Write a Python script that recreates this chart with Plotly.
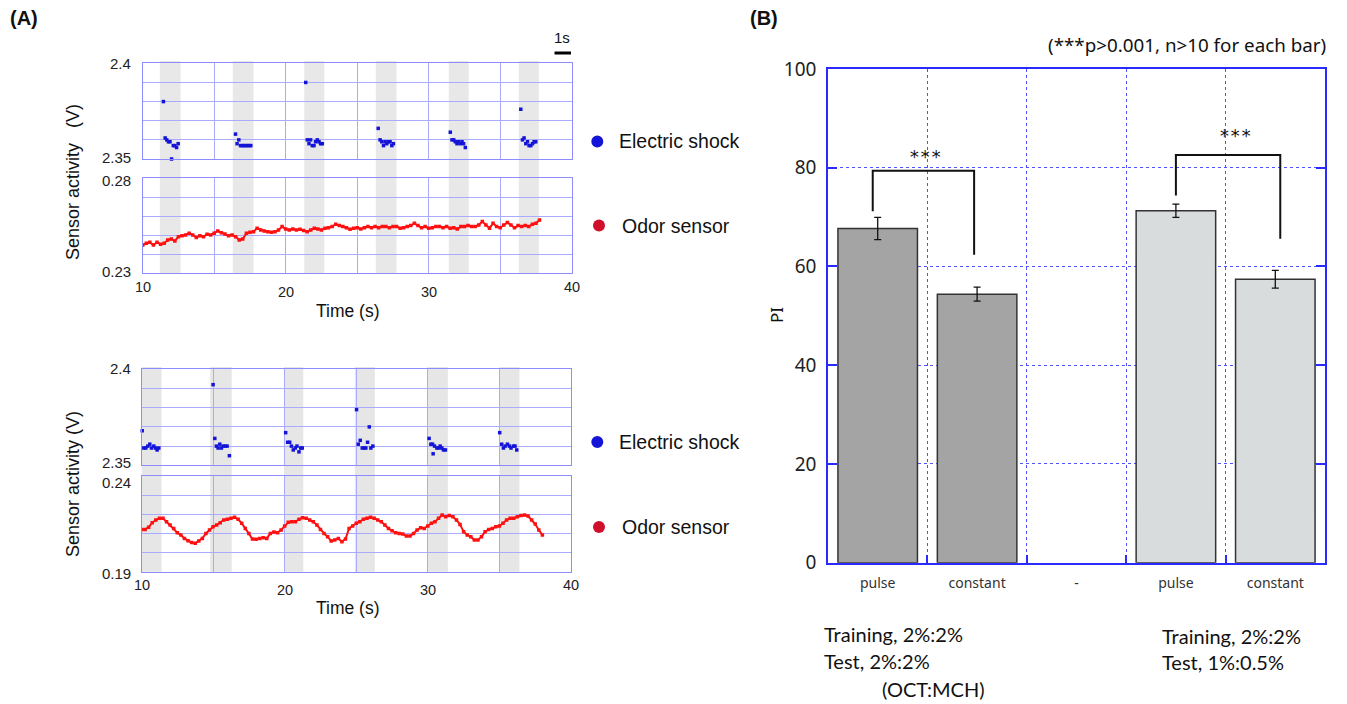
import plotly.graph_objects as go

W, H = 1347, 704
def fx(p): return p / W
def fy(p): return 1 - p / H

# ---------------- data ----------------
# (A) upper recording: electric shock sensor samples
shock_top_t = [11.45, 11.57, 11.68, 11.80, 11.91, 12.02, 12.14, 12.25, 12.37, 12.48,
               16.49, 16.60, 16.72, 16.84, 16.96, 17.08, 17.20, 17.32, 17.44, 17.56,
               21.40, 21.51, 21.63, 21.74, 21.86, 21.98, 22.09, 22.21, 22.33, 22.44, 22.56,
               26.47, 26.60, 26.72, 26.84, 26.95, 27.07, 27.19, 27.30, 27.42, 27.53,
               31.51, 31.63, 31.75, 31.86, 31.98, 32.09, 32.21, 32.33, 32.44, 32.56,
               36.44, 36.56, 36.67, 36.79, 36.91, 37.02, 37.14, 37.26, 37.37, 37.49]
shock_top_v = [2.380, 2.361, 2.360, 2.359, 2.359, 2.350, 2.357, 2.357, 2.356, 2.358,
               2.363, 2.358, 2.360, 2.357, 2.357, 2.357, 2.357, 2.357, 2.357, 2.357,
               2.390, 2.360, 2.358, 2.360, 2.357, 2.357, 2.359, 2.360, 2.359, 2.358, 2.358,
               2.366, 2.360, 2.359, 2.357, 2.359, 2.358, 2.359, 2.359, 2.357, 2.358,
               2.364, 2.360, 2.360, 2.359, 2.358, 2.359, 2.358, 2.359, 2.358, 2.356,
               2.376, 2.360, 2.361, 2.358, 2.359, 2.357, 2.357, 2.358, 2.359, 2.359]

# (A) lower recording: electric shock sensor samples
shock_bot_t = [10.05, 10.16, 10.30, 10.44, 10.58, 10.70, 10.86, 10.98, 11.09, 11.21,
               15.00, 15.12, 15.23, 15.35, 15.47, 15.58, 15.70, 15.84, 15.98, 16.14,
               20.07, 20.21, 20.35, 20.47, 20.60, 20.74, 20.86, 21.00, 21.12, 21.23,
               25.02, 25.14, 25.28, 25.42, 25.56, 25.67, 25.79, 25.91, 26.02, 26.16,
               30.09, 30.21, 30.33, 30.37, 30.47, 30.63, 30.77, 30.86, 30.98, 31.09, 31.23,
               35.02, 35.16, 35.28, 35.40, 35.56, 35.70, 35.81, 35.98, 36.09, 36.21]
shock_bot_v = [2.368, 2.359, 2.359, 2.360, 2.361, 2.359, 2.360, 2.359, 2.358, 2.359,
               2.392, 2.364, 2.360, 2.359, 2.361, 2.359, 2.360, 2.360, 2.360, 2.355,
               2.367, 2.362, 2.362, 2.360, 2.358, 2.359, 2.360, 2.357, 2.359, 2.359,
               2.379, 2.361, 2.363, 2.359, 2.359, 2.359, 2.362, 2.370, 2.359, 2.360,
               2.364, 2.361, 2.361, 2.356, 2.360, 2.359, 2.359, 2.360, 2.359, 2.358, 2.358,
               2.367, 2.361, 2.359, 2.360, 2.361, 2.360, 2.359, 2.360, 2.360, 2.358]

# odor sensor sample times (s)
odor_t_top = [10, 10.25, 10.5, 10.75, 11, 11.25, 11.5, 11.75, 12, 12.25, 12.5, 12.75,
              13, 13.25, 13.5, 13.75, 14, 14.25, 14.5, 14.75, 15, 15.25, 15.5, 15.75,
              16, 16.25, 16.5, 16.75, 17, 17.25, 17.5, 17.75, 18, 18.25, 18.5, 18.75,
              19, 19.25, 19.5, 19.75, 20, 20.25, 20.5, 20.75, 21, 21.25, 21.5, 21.75,
              22, 22.25, 22.5, 22.75, 23, 23.25, 23.5, 23.75, 24, 24.25, 24.5, 24.75,
              25, 25.25, 25.5, 25.75, 26, 26.25, 26.5, 26.75, 27, 27.25, 27.5, 27.75,
              28, 28.25, 28.5, 28.75, 29, 29.25, 29.5, 29.75, 30, 30.25, 30.5, 30.75,
              31, 31.25, 31.5, 31.75, 32, 32.25, 32.5, 32.75, 33, 33.25, 33.5, 33.75,
              34, 34.25, 34.5, 34.75, 35, 35.25, 35.5, 35.75, 36, 36.25, 36.5, 36.75,
              37, 37.25, 37.5, 37.75]
odor_top_v = [0.2449, 0.2458, 0.2463, 0.2449, 0.2463, 0.2453, 0.2458, 0.2475, 0.2481, 0.2470,
              0.2493, 0.2498, 0.2502, 0.2511, 0.2502, 0.2488, 0.2498, 0.2493, 0.2505, 0.2502,
              0.2511, 0.2523, 0.2514, 0.2507, 0.2498, 0.2502, 0.2493, 0.2475, 0.2481, 0.2511,
              0.2516, 0.2519, 0.2537, 0.2528, 0.2523, 0.2519, 0.2516, 0.2519, 0.2528, 0.2546,
              0.2533, 0.2528, 0.2533, 0.2528, 0.2532, 0.2525, 0.2519, 0.2528, 0.2537, 0.2533,
              0.2528, 0.2537, 0.2540, 0.2546, 0.2558, 0.2551, 0.2546, 0.2540, 0.2532, 0.2537,
              0.2540, 0.2533, 0.2540, 0.2546, 0.2540, 0.2546, 0.2540, 0.2546, 0.2546, 0.2540,
              0.2546, 0.2546, 0.2537, 0.2540, 0.2546, 0.2551, 0.2563, 0.2551, 0.2540, 0.2546,
              0.2537, 0.2540, 0.2546, 0.2546, 0.2540, 0.2546, 0.2537, 0.2540, 0.2533, 0.2546,
              0.2546, 0.2551, 0.2546, 0.2546, 0.2554, 0.2572, 0.2554, 0.2537, 0.2563, 0.2546,
              0.2540, 0.2554, 0.2568, 0.2554, 0.2540, 0.2551, 0.2546, 0.2551, 0.2546, 0.2558,
              0.2563, 0.2581]

odor_t_bot = [10, 10.25, 10.5, 10.75, 11, 11.25, 11.5, 11.75, 12, 12.25, 12.5, 12.75,
              13, 13.25, 13.5, 13.75, 14, 14.25, 14.5, 14.75, 15, 15.25, 15.5, 15.75,
              16, 16.25, 16.5, 16.75, 17, 17.25, 17.5, 17.75, 18, 18.25, 18.5, 18.75,
              19, 19.25, 19.5, 19.75, 20, 20.25, 20.5, 20.75, 21, 21.25, 21.5, 21.75,
              22, 22.25, 22.5, 22.75, 23, 23.25, 23.5, 23.75, 24, 24.25, 24.5, 24.75,
              25, 25.25, 25.5, 25.75, 26, 26.25, 26.5, 26.75, 27, 27.25, 27.5, 27.75,
              28, 28.25, 28.5, 28.75, 29, 29.25, 29.5, 29.75, 30, 30.25, 30.5, 30.75,
              31, 31.25, 31.5, 31.75, 32, 32.25, 32.5, 32.75, 33, 33.25, 33.5, 33.75,
              34, 34.25, 34.5, 34.75, 35, 35.25, 35.5, 35.75, 36, 36.25, 36.5, 36.75,
              37, 37.25, 37.5, 37.75, 38]
odor_bot_v = [0.2121, 0.2121, 0.2132, 0.2156, 0.2170, 0.2179, 0.2179, 0.2161, 0.2144, 0.2126,
              0.2104, 0.2092, 0.2074, 0.2062, 0.2052, 0.2048, 0.2060, 0.2074, 0.2100, 0.2118,
              0.2135, 0.2144, 0.2156, 0.2170, 0.2174, 0.2179, 0.2184, 0.2174, 0.2153, 0.2126,
              0.2100, 0.2071, 0.2069, 0.2074, 0.2078, 0.2074, 0.2100, 0.2107, 0.2104, 0.2118,
              0.2139, 0.2158, 0.2161, 0.2161, 0.2174, 0.2182, 0.2179, 0.2170, 0.2161, 0.2144,
              0.2121, 0.2100, 0.2083, 0.2060, 0.2066, 0.2074, 0.2057, 0.2071, 0.2126, 0.2139,
              0.2153, 0.2161, 0.2174, 0.2179, 0.2184, 0.2179, 0.2170, 0.2161, 0.2144, 0.2126,
              0.2114, 0.2104, 0.2100, 0.2097, 0.2086, 0.2086, 0.2100, 0.2118, 0.2130, 0.2126,
              0.2139, 0.2153, 0.2161, 0.2179, 0.2196, 0.2187, 0.2193, 0.2187, 0.2170, 0.2147,
              0.2109, 0.2092, 0.2083, 0.2066, 0.2066, 0.2083, 0.2109, 0.2121, 0.2126, 0.2135,
              0.2139, 0.2153, 0.2170, 0.2179, 0.2179, 0.2187, 0.2193, 0.2196, 0.2191, 0.2170,
              0.2149, 0.2118, 0.2092]

# shock stimulus periods (s)
band_top_start = [11.2, 16.3, 21.3, 26.3, 31.4, 36.3]
band_top_end = [12.65, 17.75, 22.7, 27.75, 32.8, 37.7]
band_bot_start = [10.0, 14.8, 19.95, 24.9, 29.95, 35.0]
band_bot_end = [11.4, 16.3, 21.3, 26.3, 31.4, 36.4]

time_grid = [10, 15, 20, 25, 30, 35, 40]
time_labels = [10, 20, 30, 40]
shock_grid = [2.35, 2.36, 2.37, 2.38, 2.39, 2.40]
odor_top_grid = [0.23, 0.24, 0.25, 0.26, 0.27, 0.28]
odor_bot_grid = [0.19, 0.20, 0.21, 0.22, 0.23, 0.24]
# end-of-axis labels: (axis, value, text, vertical shift in px, + = up)
y_end_labels = [('y', 2.40, '2.4', 0), ('y', 2.35, '2.35', 1),
                ('y2', 0.28, '0.28', -2), ('y2', 0.23, '0.23', 1.5),
                ('y3', 2.40, '2.4', 1), ('y3', 2.35, '2.35', 3),
                ('y4', 0.24, '0.24', -6), ('y4', 0.19, '0.19', -1.5)]

# (B) bar chart
bar_pos = [1, 2, 4, 5]
bar_labels_pos = [1, 2, 3, 4, 5]
bar_labels = ['pulse', 'constant', '-', 'pulse', 'constant']
pi_values = [67.7, 54.4, 71.3, 57.4]
pi_errors = [2.25, 1.4, 1.35, 1.8]
bar_colors = ['#a4a4a4', '#a4a4a4', '#d9dcdc', '#d9dcdc']
pi_ticks = [0, 20, 40, 60, 80, 100]
bracket_left_x = [0.95, 0.95, 1.97, 1.97]
bracket_left_y = [71.2, 79.4, 79.4, 62.4]
bracket_right_x = [4.0, 4.0, 5.05, 5.05]
bracket_right_y = [74.4, 82.6, 82.6, 65.6]
star_x = [1.48, 4.6]
star_y = [82.3, 86.6]

# ---------------- styling ----------------
LF = "Liberation Sans, Arial, sans-serif"
RF = "Noto Sans, sans-serif"
CF = "Lato, Carlito, sans-serif"
GRID_L = "#aaaaff"
LINE_L = "#8c8cff"
BLUE_DOT = "#1414d8"
RED_LINE = "#ff1010"
BLUE_B = "#2a2aff"

TOPX = (142.7, 571.7)
BOTX = (141.5, 571.0)
P_SHOCK_TOP = (63.3, 159.0)
P_ODOR_TOP = (178.3, 273.3)
P_SHOCK_BOT = (369.3, 465.3)
P_ODOR_BOT = (476.0, 571.7)
BX = (828.0, 1325.0)
BY = (69.0, 562.7)


def xax(dom, anchor):
    return dict(domain=[fx(dom[0]), fx(dom[1])], range=[10, 40], anchor=anchor,
                tickvals=time_grid, showticklabels=False, automargin=False,
                showgrid=True, gridcolor=GRID_L, gridwidth=1, showline=True,
                linecolor=LINE_L, linewidth=1, mirror=True, zeroline=False, ticks='',
                fixedrange=True)


def yax(dom, rng, tv, anchor):
    return dict(domain=[fy(dom[1]), fy(dom[0])], range=rng, anchor=anchor,
                tickvals=tv, showticklabels=False, automargin=False,
                showgrid=True, gridcolor=GRID_L, gridwidth=1,
                showline=True, linecolor=LINE_L, linewidth=1, mirror=True, zeroline=False,
                ticks='', fixedrange=True)


fig = go.Figure()

fig.add_trace(go.Scatter(x=shock_top_t, y=shock_top_v, mode='markers', xaxis='x', yaxis='y',
                         marker=dict(symbol='square', size=3.5, color=BLUE_DOT), cliponaxis=False))
fig.add_trace(go.Scatter(x=odor_t_top, y=odor_top_v, mode='lines+markers', xaxis='x2', yaxis='y2',
                         line=dict(color=RED_LINE, width=2),
                         marker=dict(symbol='square', size=3.5, color=RED_LINE)))
fig.add_trace(go.Scatter(x=shock_bot_t, y=shock_bot_v, mode='markers', xaxis='x3', yaxis='y3',
                         marker=dict(symbol='square', size=3.5, color=BLUE_DOT), cliponaxis=False))
fig.add_trace(go.Scatter(x=odor_t_bot, y=odor_bot_v, mode='lines+markers', xaxis='x4', yaxis='y4',
                         line=dict(color=RED_LINE, width=2),
                         marker=dict(symbol='square', size=3.5, color=RED_LINE)))

fig.add_trace(go.Bar(x=bar_pos, y=pi_values, width=0.8, xaxis='x5', yaxis='y5',
                     marker=dict(color=bar_colors, line=dict(color='#333333', width=1.5)),
                     error_y=dict(type='data', array=pi_errors, color='#111111',
                                  thickness=1.3, width=3.5)))
for bx, by in ((bracket_left_x, bracket_left_y), (bracket_right_x, bracket_right_y)):
    fig.add_trace(go.Scatter(x=bx, y=by, mode='lines', xaxis='x5', yaxis='y5',
                             line=dict(color='#111111', width=2)))

shapes = []
for s, e in zip(band_top_start, band_top_end):
    shapes.append(dict(type='rect', xref='x', yref='paper', x0=s, x1=e,
                       y0=fy(P_ODOR_TOP[1]), y1=fy(61), fillcolor='#e8e8e8',
                       line=dict(width=0), layer='below'))
for s, e in zip(band_bot_start, band_bot_end):
    shapes.append(dict(type='rect', xref='x3', yref='paper', x0=s, x1=e,
                       y0=fy(P_ODOR_BOT[1]), y1=fy(367), fillcolor='#e6e6e6',
                       line=dict(width=0), layer='below'))
# 1 s scale bar
shapes.append(dict(type='line', xref='x', yref='paper', x0=38.8, x1=39.95,
                   y0=fy(53), y1=fy(53), line=dict(color='black', width=3)))
# legend dots
for cx, cy, col in ((597.3, 141.5, BLUE_DOT), (599, 225.5, '#d0102a'),
                    (597.3, 442, BLUE_DOT), (599, 527, '#d0102a')):
    r = 6
    shapes.append(dict(type='circle', xref='paper', yref='paper',
                       x0=fx(cx - r), x1=fx(cx + r), y0=fy(cy + r), y1=fy(cy - r),
                       fillcolor=col, line=dict(width=0)))

ann = []
def txt(x, y, t, size, family=LF, xanchor='center', angle=0, bold=False, color='#111'):
    ann.append(dict(x=fx(x), y=fy(y), xref='paper', yref='paper', text=(f'<b>{t}</b>' if bold else t),
                    showarrow=False, xanchor=xanchor, yanchor='middle', textangle=angle,
                    font=dict(family=family, size=size, color=color)))

# left-panel axis end labels (placed on the axes' own scales)
for yref, val, label, shift in y_end_labels:
    ann.append(dict(xref='paper', x=fx(132.5), yref=yref, y=val, text=label, showarrow=False,
                    xanchor='right', yanchor='middle', yshift=shift,
                    font=dict(family=LF, size=15, color='#222')))
for xref, ybase in (('x2', 287), ('x4', 585)):
    for v in time_labels:
        dy = 0 if v in (10, 40) else 5
        ann.append(dict(xref=xref, x=v, yref='paper', y=fy(ybase + dy), text=str(v),
                        showarrow=False, xanchor='center', yanchor='middle',
                        font=dict(family=LF, size=14.5, color='#222')))

txt(8, 18, '(A)', 20, xanchor='left', bold=True)
txt(748, 18, '(B)', 20, xanchor='left', bold=True)
txt(562, 37, '1s', 15)
txt(73, 182, 'Sensor activity&nbsp;&nbsp; (V)', 18, angle=-90)
txt(73, 484, 'Sensor activity (V)', 18, angle=-90)
txt(348, 311, 'Time (s)', 17.5)
txt(348, 608, 'Time (s)', 17.5)
txt(617, 141.5, 'Electric shock', 19.5, xanchor='left')
txt(619.5, 225.5, 'Odor sensor', 19.5, xanchor='left')
txt(617, 442, 'Electric shock', 19.5, xanchor='left')
txt(620, 527, 'Odor sensor', 19.5, xanchor='left')

txt(1328, 45, '(***p>0.001, n>10 for each bar)', 18.8, family=RF, xanchor='right')
txt(776, 315, 'PI', 17, family=RF, angle=-90)
txt(822, 634, 'Training, 2%:2%', 20, family=CF, xanchor='left')
txt(822, 661, 'Test, 2%:2%', 20, family=CF, xanchor='left')
txt(880, 689, '(OCT:MCH)', 20, family=CF, xanchor='left')
txt(1160, 636, 'Training, 2%:2%', 20, family=CF, xanchor='left')
txt(1160, 662, 'Test, 1%:0.5%', 20, family=CF, xanchor='left')

for sx, sy in zip(star_x, star_y):
    ann.append(dict(x=sx, y=sy, xref='x5', yref='y5', text='***', showarrow=False,
                    xanchor='center', yanchor='middle',
                    font=dict(family='DejaVu Sans Mono, monospace', size=18, color='#111')))

fig.update_layout(
    width=W, height=H, margin=dict(l=0, r=0, t=0, b=0, autoexpand=False),
    paper_bgcolor='white', plot_bgcolor='rgba(0,0,0,0)', showlegend=False,
    xaxis=xax(TOPX, 'y'),
    yaxis=yax(P_SHOCK_TOP, [2.35, 2.40], shock_grid, 'x'),
    xaxis2=xax(TOPX, 'y2'),
    yaxis2=yax(P_ODOR_TOP, [0.23, 0.28], odor_top_grid, 'x2'),
    xaxis3=xax(BOTX, 'y3'),
    yaxis3=yax(P_SHOCK_BOT, [2.35, 2.40], shock_grid, 'x3'),
    xaxis4=xax(BOTX, 'y4'),
    yaxis4=yax(P_ODOR_BOT, [0.19, 0.24], odor_bot_grid, 'x4'),
    xaxis5=dict(domain=[fx(BX[0]), fx(BX[1])], range=[0.5, 5.5], anchor='y5',
                tickvals=bar_labels_pos, ticktext=bar_labels, showgrid=False, ticks='',
                showline=True, linecolor=BLUE_B, linewidth=1.5, mirror=True, zeroline=False,
                tickfont=dict(family=RF, size=14, color='#333'), ticklabelstandoff=7,
                automargin=False,
                minor=dict(tickvals=[1.5, 2.5, 3.5, 4.5], showgrid=True, gridcolor='#5050ff',
                           griddash='dot', gridwidth=1, ticks='inside', ticklen=8,
                           tickcolor=BLUE_B, tickwidth=1.5),
                fixedrange=True),
    yaxis5=dict(domain=[fy(BY[1]), fy(BY[0])], range=[0, 100], anchor='x5',
                tickvals=pi_ticks, showgrid=True, gridcolor='#5050ff', griddash='dot',
                gridwidth=1, ticks='inside', ticklen=9, tickcolor=BLUE_B, tickwidth=1.5,
                showline=True, linecolor=BLUE_B, linewidth=1.5, mirror='ticks',
                zeroline=False, tickfont=dict(family=RF, size=19, color='#222'),
                ticklabelstandoff=6, automargin=False, fixedrange=True),
    shapes=shapes, annotations=ann,
)

fig.write_html("out.html", include_plotlyjs=True, config={'displayModeBar': False},
               post_script="document.body.style.margin='0';")
